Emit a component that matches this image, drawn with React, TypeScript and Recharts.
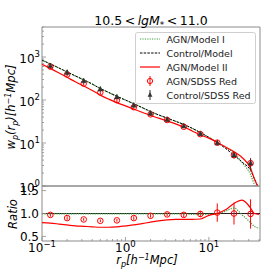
import React from 'react';
import {
  ComposedChart,
  Line,
  Scatter,
  ErrorBar,
  XAxis,
  YAxis,
  ReferenceArea,
  ReferenceLine,
  Legend,
} from 'recharts';

// ---- model curves ----
const rpModel = [0.1, 0.126, 0.16, 0.2, 0.25, 0.316, 0.4, 0.5, 0.63, 0.79, 1, 1.26, 1.58, 2, 2.5, 3.16, 4, 5, 6.3, 7.9, 10, 12.6, 15.8, 20, 25, 31.6, 35, 40];
const wpControlModel = [850, 690, 555, 450, 365, 295, 235, 185, 150, 122, 100, 82, 67, 54, 45, 38, 32, 27, 22, 17.5, 13.5, 10.3, 7.5, 5.2, 3.6, 2.3, 1.5, 0.85];
const wpAgnModel1 = [850, 690, 555, 450, 365, 295, 235, 185, 150, 122, 100, 82, 67, 54, 45, 38, 32, 27, 22, 17.5, 13.5, 10.3, 7.9, 5.8, 3.5, 1.84, 1.1, 0.58];
const wpAgnModel2 = [680, 545, 427, 338, 266, 212, 167, 130, 105, 87, 73, 61.5, 52, 43.7, 37.8, 32.7, 27.8, 23.5, 19.1, 15.4, 13, 10.3, 8.1, 6.3, 4.6, 2.6, 1.5, 0.83];
const ratioModel1 = [0.99, 0.99, 0.99, 0.99, 0.99, 0.99, 0.99, 0.99, 0.99, 0.99, 0.99, 0.99, 0.99, 0.99, 0.99, 0.99, 0.99, 0.99, 0.98, 0.98, 0.98, 0.99, 1.05, 1.12, 0.97, 0.8, 0.72, 0.68];
const ratioModel2 = [0.8, 0.79, 0.77, 0.75, 0.73, 0.72, 0.71, 0.7, 0.7, 0.71, 0.73, 0.75, 0.78, 0.81, 0.84, 0.86, 0.87, 0.87, 0.87, 0.88, 0.96, 1.0, 1.08, 1.22, 1.29, 1.12, 1.0, 0.98];

// ---- SDSS measurements ----
const rpData = [0.126, 0.2, 0.316, 0.5, 0.79, 1.26, 2, 3.16, 5, 7.9, 12.6, 20, 31.6];
const wpControl = [620, 435, 277, 178, 117, 75, 49, 35, 24.6, 16.3, 10, 5.2, 3.4];
const wpControlErr = [45, 60, 30, 18, 10, 6, 3.5, 2.5, 1.8, 1.3, 1.0, 0.7, 1.0];
const wpAgn = [600, 392, 241, 150, 99, 68, 46.5, 34.3, 23.9, 16.1, 10.2, 5.2, 3.4];
const wpAgnErr = [40, 35, 22, 14, 9, 5, 3.5, 2.5, 1.8, 1.3, 1.2, 0.8, 1.0];
const ratioAgn = [0.97, 0.9, 0.87, 0.84, 0.85, 0.9, 0.95, 0.98, 0.97, 0.99, 1.02, 1.0, 0.99];
const ratioAgnErr = [0.04, 0.04, 0.03, 0.03, 0.03, 0.04, 0.04, 0.04, 0.05, 0.07, 0.2, 0.24, 0.32];

// ---- ticks ----
const xTicks = [0.1, 0.2, 0.3, 0.4, 0.5, 0.6, 0.7, 0.8, 0.9, 1, 2, 3, 4, 5, 6, 7, 8, 9, 10, 20, 30, 40];
const yTicksTop = [1, 2, 3, 4, 5, 6, 7, 8, 9, 10, 20, 30, 40, 50, 60, 70, 80, 90, 100, 200, 300, 400, 500, 600, 700, 800, 900, 1000, 2000, 3000, 4000, 5000];
const yTicksRatio = [0.5, 1.0, 1.5];
const ratioLabels = ['0.5', '1.0', '1.5'];

const FONT = 'DejaVu Sans, sans-serif';
const SPINE = '#8a8a8a';
const GREEN = '#3fa03f';

const isMajor = (v: number) => Math.abs(Math.log10(v) - Math.round(Math.log10(v))) < 1e-6;
const supText = (e: number) => (e < 0 ? '\u2212' + Math.abs(e) : String(e));

const LogYTick = (props: any) => {
  const { x, y, payload } = props;
  const v = payload.value;
  const major = isMajor(v);
  const e = Math.round(Math.log10(v));
  return (
    <g>
      <line x1={x} x2={x + (major ? 4 : 2)} y1={y} y2={y} stroke={SPINE} strokeWidth={0.8} />
      {major && (
        <text x={x - 2} y={y + 5.5} textAnchor="end" fontSize={12} fill="#000" fontFamily={FONT}>
          10<tspan dy={-5.5} fontSize={8.5}>{supText(e)}</tspan>
        </text>
      )}
    </g>
  );
};

const LogXTick = (props: any) => {
  const { x, y, payload } = props;
  const v = payload.value;
  const major = isMajor(v);
  const e = Math.round(Math.log10(v));
  return (
    <g>
      <line x1={x} x2={x} y1={y} y2={y - (major ? 4 : 2)} stroke={SPINE} strokeWidth={0.8} />
      {major && (
        <text x={x} y={y + 11} textAnchor="middle" fontSize={12} fill="#000" fontFamily={FONT}>
          10<tspan dy={-5.5} fontSize={8.5}>{supText(e)}</tspan>
        </text>
      )}
    </g>
  );
};

const RatioTick = (props: any) => {
  const { x, y, payload, index } = props;
  return (
    <g>
      <line x1={x} x2={x + 4} y1={y} y2={y} stroke={SPINE} strokeWidth={0.8} />
      <text x={x - 3} y={y + 4.5} textAnchor="end" fontSize={12} fill="#000" fontFamily={FONT}>
        {ratioLabels[index] ?? String(payload.value)}
      </text>
    </g>
  );
};

const RedCircle = (props: any) => {
  const { cx, cy } = props;
  if (cx == null || cy == null) return <g />;
  return <circle cx={cx} cy={cy} r={2.8} fill="none" stroke="#ff0000" strokeWidth={1} />;
};

const BlackTri = (props: any) => {
  const { cx, cy } = props;
  if (cx == null || cy == null) return <g />;
  return (
    <polygon
      points={`${cx},${cy - 3} ${cx - 2.4},${cy + 1.8} ${cx + 2.4},${cy + 1.8}`}
      fill="#333"
      stroke="#333"
      strokeWidth={0.5}
    />
  );
};

const renderLegend = () => {
  const rows = [
    { label: 'AGN/Model I', kind: 'green' },
    { label: 'Control/Model', kind: 'black' },
    { label: 'AGN/Model II', kind: 'red' },
    { label: 'AGN/SDSS Red', kind: 'rpt' },
    { label: 'Control/SDSS Red', kind: 'kpt' },
  ];
  return (
    <svg width={121} height={72} style={{ display: 'block' }}>
      <rect x={0.5} y={0.5} width={120} height={71} rx={2} fill="#fff" fillOpacity={0.85} stroke="#cfcfcf" strokeWidth={1} />
      {rows.map((r, i) => {
        const cy = 7 + i * 14;
        let sample: any = null;
        if (r.kind === 'green') sample = <line x1={5} x2={25} y1={cy} y2={cy} stroke={GREEN} strokeWidth={1.2} strokeDasharray="1.2 1.2" />;
        if (r.kind === 'black') sample = <line x1={5} x2={25} y1={cy} y2={cy} stroke="#000" strokeWidth={1} strokeDasharray="2.5 1.2" />;
        if (r.kind === 'red') sample = <line x1={5} x2={25} y1={cy} y2={cy} stroke="#ff0000" strokeWidth={1.2} />;
        if (r.kind === 'rpt')
          sample = (
            <g>
              <line x1={15} x2={15} y1={cy - 5} y2={cy + 5} stroke="#ff0000" strokeWidth={1} />
              <circle cx={15} cy={cy} r={2.6} fill="none" stroke="#ff0000" strokeWidth={1} />
            </g>
          );
        if (r.kind === 'kpt')
          sample = (
            <g>
              <line x1={15} x2={15} y1={cy - 5} y2={cy + 5} stroke="#333" strokeWidth={1} />
              <polygon points={`15,${cy - 3} ${12.6},${cy + 1.8} ${17.4},${cy + 1.8}`} fill="#333" />
            </g>
          );
        return (
          <g key={r.label}>
            {sample}
            <text x={31.5} y={cy + 3.5} fontSize={9.5} fill="#222" fontFamily={FONT}>
              {r.label}
            </text>
          </g>
        );
      })}
    </svg>
  );
};

export default function App() {
  const lineModel1 = rpModel.map((x, i) => ({ x, y: wpAgnModel1[i] }));
  const lineControl = rpModel.map((x, i) => ({ x, y: wpControlModel[i] }));
  const lineModel2 = rpModel.map((x, i) => ({ x, y: wpAgnModel2[i] }));
  const ptsAgn = rpData.map((x, i) => ({ x, y: wpAgn[i], e: wpAgnErr[i] }));
  const ptsControl = rpData.map((x, i) => ({ x, y: wpControl[i], e: wpControlErr[i] }));
  const ratioLine1 = rpModel.map((x, i) => ({ x, y: ratioModel1[i] }));
  const ratioLine2 = rpModel.map((x, i) => ({ x, y: ratioModel2[i] }));
  const ratioPts = rpData.map((x, i) => ({ x, y: ratioAgn[i], e: ratioAgnErr[i] }));

  return (
    <div style={{ position: 'absolute', left: 0, top: 0, width: 274, height: 274, background: '#fff', overflow: 'hidden' }}>
      <div style={{ position: 'absolute', left: 0, top: 0 }}>
        <ComposedChart width={274} height={200} margin={{ top: 27, right: 14, bottom: 14, left: 0 }}>
          <XAxis type="number" dataKey="x" scale="log" domain={[0.1, 41]} allowDataOverflow hide />
          <YAxis
            type="number"
            scale="log"
            domain={[1, 5000]}
            allowDataOverflow
            ticks={yTicksTop}
            interval={0}
            tick={(p: any) => <LogYTick {...p} />}
            tickLine={false}
            axisLine={false}
            tickSize={0}
            tickMargin={0}
            width={42}
          />
          <ReferenceArea x1={0.1} x2={41} y1={1} y2={5000} fill="none" stroke={SPINE} strokeWidth={1} ifOverflow="visible" />
          <Line data={lineModel1} dataKey="y" type="monotone" stroke={GREEN} strokeWidth={1.2} strokeDasharray="1.2 1.2" dot={false} isAnimationActive={false} />
          <Line data={lineControl} dataKey="y" type="monotone" stroke="#000" strokeWidth={1} strokeDasharray="2.5 1.2" dot={false} isAnimationActive={false} />
          <Line data={lineModel2} dataKey="y" type="monotone" stroke="#ff0000" strokeWidth={1.2} dot={false} isAnimationActive={false} />
          <Scatter data={ptsAgn} dataKey="y" shape={(p: any) => <RedCircle {...p} />} isAnimationActive={false}>
            <ErrorBar dataKey="e" direction="y" width={0} stroke="#ff0000" strokeWidth={1} />
          </Scatter>
          <Scatter data={ptsControl} dataKey="y" shape={(p: any) => <BlackTri {...p} />} isAnimationActive={false}>
            <ErrorBar dataKey="e" direction="y" width={0} stroke="#333" strokeWidth={1} />
          </Scatter>
          <Legend
            layout="horizontal"
            verticalAlign="middle"
            align="center"
            content={renderLegend}
            wrapperStyle={{ position: 'absolute', left: 135, top: 32, width: 121, height: 72 }}
          />
        </ComposedChart>
      </div>

      <div style={{ position: 'absolute', left: 0, top: 176 }}>
        <ComposedChart width={274} height={98} margin={{ top: 10, right: 14, bottom: 0, left: 0 }}>
          <XAxis
            type="number"
            dataKey="x"
            scale="log"
            domain={[0.1, 41]}
            allowDataOverflow
            ticks={xTicks}
            interval={0}
            tick={(p: any) => <LogXTick {...p} />}
            tickLine={false}
            axisLine={false}
            tickSize={0}
            tickMargin={0}
            height={33}
          />
          <YAxis
            type="number"
            domain={[0.4, 1.6]}
            allowDataOverflow
            ticks={yTicksRatio}
            interval={0}
            tick={(p: any) => <RatioTick {...p} />}
            tickLine={false}
            axisLine={false}
            tickSize={0}
            tickMargin={0}
            width={42}
          />
          <ReferenceArea x1={0.1} x2={41} y1={0.4} y2={1.6} fill="none" stroke={SPINE} strokeWidth={1} ifOverflow="visible" />
          <ReferenceLine y={1} stroke="#222" strokeWidth={1.2} />
          <Scatter data={ratioPts} dataKey="y" shape={(p: any) => <RedCircle {...p} />} isAnimationActive={false}>
            <ErrorBar dataKey="e" direction="y" width={0} stroke="#ff0000" strokeWidth={1} />
          </Scatter>
          <Line data={ratioLine1} dataKey="y" type="monotone" stroke={GREEN} strokeWidth={1.2} strokeDasharray="1.2 1.2" dot={false} isAnimationActive={false} />
          <Line data={ratioLine2} dataKey="y" type="monotone" stroke="#ff0000" strokeWidth={1.2} dot={false} isAnimationActive={false} />
        </ComposedChart>
      </div>

      <svg width={274} height={274} style={{ position: 'absolute', left: 0, top: 0, pointerEvents: 'none' }}>
        <text x={151} y={25} textAnchor="middle" fontSize={12.5} fill="#000" fontFamily={FONT}>
          10.5{'\u2009<\u2009'}
          <tspan fontStyle="italic">lgM</tspan>
          <tspan dy={2.5} fontSize={9}>*</tspan>
          <tspan dy={-2.5}>{'\u2009<\u2009'}11.0</tspan>
        </text>
        <text transform="translate(15,107) rotate(-90)" textAnchor="middle" fontSize={11.5} fill="#000" fontFamily={FONT} fontStyle="italic">
          w<tspan dy={2.5} fontSize={8}>p</tspan>
          <tspan dy={-2.5}>(r</tspan>
          <tspan dy={2.5} fontSize={8}>p</tspan>
          <tspan dy={-2.5}>)[h</tspan>
          <tspan dy={-4.5} fontSize={8}>{'\u22121'}</tspan>
          <tspan dy={4.5}>Mpc]</tspan>
        </text>
        <text transform="translate(17,214) rotate(-90)" textAnchor="middle" fontSize={11.5} fill="#000" fontFamily={FONT} fontStyle="italic">
          Ratio
        </text>
        <text x={147} y={264} textAnchor="middle" fontSize={11.5} fill="#000" fontFamily={FONT} fontStyle="italic">
          r<tspan dy={2.5} fontSize={8}>p</tspan>
          <tspan dy={-2.5}>[h</tspan>
          <tspan dy={-4.5} fontSize={8}>{'\u22121'}</tspan>
          <tspan dy={4.5}>Mpc]</tspan>
        </text>
      </svg>
    </div>
  );
}
